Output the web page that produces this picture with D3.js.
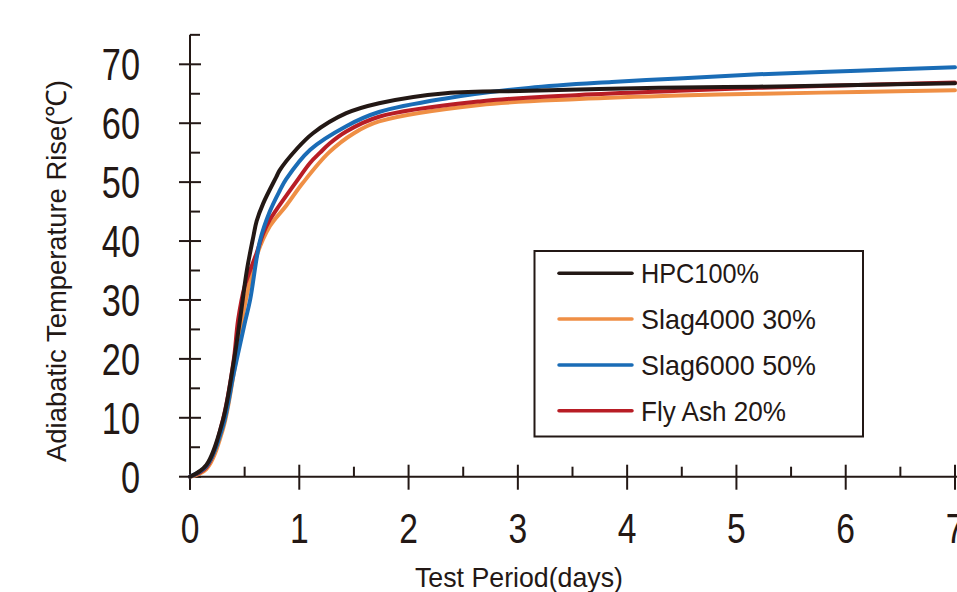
<!DOCTYPE html>
<html><head><meta charset="utf-8">
<script src="https://cdn.jsdelivr.net/npm/d3@7"></script>
<style>
html,body{margin:0;padding:0;background:#fff;}
svg{display:block;}
text{font-family:"Liberation Sans",Arial,sans-serif;fill:#231815;}
</style></head>
<body>
<svg id="c" width="957" height="592"></svg>
<script>
// ---- data ----
const seriesNames = ["HPC100%", "Slag4000 30%", "Slag6000 50%", "Fly Ash 20%"];
const seriesColors = ["#231815", "#ef8f45", "#1a6cb6", "#b81d25"];
const hpcT   = [0, 0.15, 0.30, 0.40, 0.46, 0.52, 0.58, 0.61, 0.67, 0.79, 0.82, 0.97, 1.125, 1.43, 1.73, 2.34, 3.10, 4.29, 5.20, 6.11, 7.0];
const hpcV   = [0, 2.0, 9.5, 19.5, 27.0, 35.0, 40.8, 43.4, 46.4, 50.9, 52.0, 55.5, 58.3, 61.7, 63.4, 65.1, 65.5, 66.0, 66.2, 66.5, 66.8];
const slag4T = [0, 0.15, 0.30, 0.40, 0.50, 0.61, 0.73, 0.88, 1.03, 1.27, 1.50, 1.73, 2.65, 3.56, 4.47, 5.20, 6.11, 7.0];
const slag4V = [0, 1.3, 8.0, 17.5, 29.0, 37.5, 42.5, 46.0, 49.8, 55.0, 58.3, 60.3, 63.1, 64.1, 64.7, 65.0, 65.3, 65.6];
const slag6T = [0, 0.15, 0.30, 0.40, 0.50, 0.55, 0.64, 0.73, 0.82, 0.88, 1.10, 1.43, 1.73, 2.34, 3.10, 3.86, 4.47, 5.20, 6.11, 7.0];
const slag6V = [0, 1.8, 8.5, 17.5, 26.0, 30.0, 40.0, 45.0, 48.5, 50.5, 55.5, 59.5, 61.9, 64.2, 66.0, 67.0, 67.6, 68.3, 68.9, 69.5];
const flyT   = [0, 0.15, 0.30, 0.40, 0.44, 0.50, 0.61, 0.67, 0.73, 0.79, 0.97, 1.10, 1.19, 1.28, 1.43, 1.73, 2.65, 3.56, 4.47, 5.20, 6.11, 7.0];
const flyV   = [0, 1.6, 9.6, 19.8, 26.6, 32.3, 38.0, 41.3, 43.6, 45.3, 50.0, 53.3, 55.0, 56.6, 58.6, 61.1, 63.7, 64.8, 65.5, 66.0, 66.5, 66.9];
const xTicks = [0, 1, 2, 3, 4, 5, 6, 7];
const yTicks = [0, 10, 20, 30, 40, 50, 60, 70];
const xTitle = "Test Period(days)";
const yTitle = "Adiabatic Temperature Rise(\u2103)";

const seriesT = [hpcT, slag4T, slag6T, flyT];
const seriesV = [hpcV, slag4V, slag6V, flyV];

// ---- layout ----
const svg = d3.select("#c");
const ink = "#231815";
const x = d3.scaleLinear().domain([0, 7]).range([190, 955]);
const y = d3.scaleLinear().domain([0, 70]).range([476.7, 64.3]);

function label(g, tx, ty, str, size, anchor, sx, dy) {
  return g.append("text")
    .attr("transform", `translate(${tx},${ty}) scale(${sx},1)`)
    .attr("text-anchor", anchor).attr("font-size", size)
    .attr("dy", dy || 0).text(str);
}

// y axis
const gy = svg.append("g");
gy.append("line").attr("x1", x(0)).attr("x2", x(0)).attr("y1", y(-2.2)).attr("y2", y(75))
  .attr("stroke", ink).attr("stroke-width", 2);
yTicks.forEach(v => {
  gy.append("line").attr("x1", x(0) - 11).attr("x2", x(0) + 11).attr("y1", y(v)).attr("y2", y(v))
    .attr("stroke", ink).attr("stroke-width", 2);
  label(gy, 140, y(v), v, 44, "end", 0.78, "0.36em");
});
d3.range(5, 80, 10).forEach(v => {
  gy.append("line").attr("x1", x(0)).attr("x2", x(0) + 10).attr("y1", y(v)).attr("y2", y(v))
    .attr("stroke", ink).attr("stroke-width", 2);
});

// x axis
const gx = svg.append("g");
gx.append("line").attr("x1", x(0)).attr("x2", 957).attr("y1", y(0)).attr("y2", y(0))
  .attr("stroke", ink).attr("stroke-width", 2);
xTicks.forEach(t => {
  gx.append("line").attr("x1", x(t)).attr("x2", x(t)).attr("y1", y(0) - 12).attr("y2", y(0) + 13)
    .attr("stroke", ink).attr("stroke-width", 2);
  label(gx, x(t), 543, t, 42, "middle", 0.8);
});
d3.range(0.5, 7, 1).forEach(t => {
  gx.append("line").attr("x1", x(t)).attr("x2", x(t)).attr("y1", y(0) - 10).attr("y2", y(0))
    .attr("stroke", ink).attr("stroke-width", 2);
});

// titles
svg.append("text").attr("x", 519).attr("y", 587).attr("text-anchor", "middle")
  .attr("font-size", 28).attr("textLength", 208).attr("lengthAdjust", "spacingAndGlyphs").text(xTitle);
svg.append("text").attr("transform", "translate(66,271) rotate(-90)").attr("text-anchor", "middle")
  .attr("font-size", 28).attr("textLength", 382).attr("lengthAdjust", "spacingAndGlyphs").text(yTitle);

// lines
const line = d3.line().x(d => x(d[0])).y(d => y(d[1])).curve(d3.curveCatmullRom.alpha(0.5));
const order = [1, 3, 2, 0];
order.forEach(i => {
  const pts = seriesT[i].map((t, j) => [t, seriesV[i][j]]);
  svg.append("path").attr("d", line(pts)).attr("fill", "none")
    .attr("stroke", seriesColors[i]).attr("stroke-width", 4)
    .attr("stroke-linejoin", "round").attr("stroke-linecap", "round");
});

// legend
const lg = svg.append("g");
lg.append("rect").attr("x", 534.5).attr("y", 251).attr("width", 328.5).attr("height", 185.5)
  .attr("fill", "#fff").attr("stroke", ink).attr("stroke-width", 2);
const ly = d3.scalePoint().domain(seriesNames).range([273.3, 410.7]);
const legendW = [118, 175, 175, 145];
seriesNames.forEach((n, i) => {
  lg.append("line").attr("x1", 559).attr("x2", 632).attr("y1", ly(n)).attr("y2", ly(n))
    .attr("stroke", seriesColors[i]).attr("stroke-width", 3.5).attr("stroke-linecap", "round");
  lg.append("text").attr("x", 641).attr("y", ly(n)).attr("dy", "0.36em")
    .attr("font-size", 28).attr("textLength", legendW[i]).attr("lengthAdjust", "spacingAndGlyphs").text(n);
});
</script>
</body></html>
